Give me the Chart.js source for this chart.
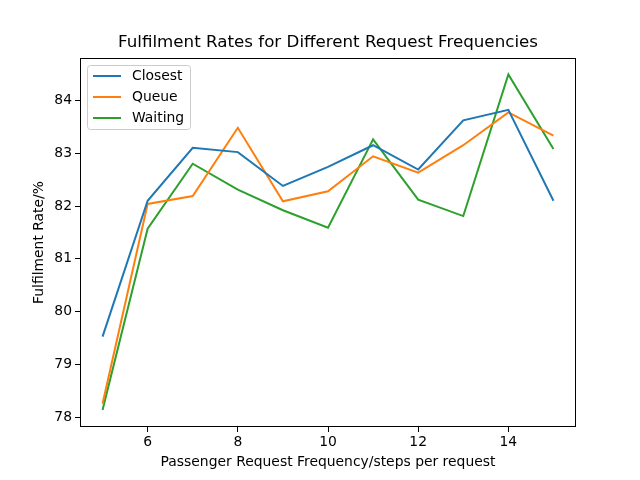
<!DOCTYPE html>
<html>
<head>
<meta charset="utf-8">
<script src="https://cdn.jsdelivr.net/npm/chart.js@4/dist/chart.umd.min.js"></script>
<style>
  html, body { margin: 0; padding: 0; background: #fff; }
  #wrap { width: 640px; height: 480px; }
</style>
</head>
<body>
<div id="wrap"><canvas id="line-chart" width="640" height="480"></canvas></div>
<script>
// data
const frequencies = [5, 6, 7, 8, 9, 10, 11, 12, 13, 14, 15];
const closest = [79.53, 82.10, 83.10, 83.02, 82.38, 82.74, 83.15, 82.69, 83.62, 83.82, 82.10];
const queue = [78.26, 82.04, 82.19, 83.48, 82.09, 82.28, 82.94, 82.63, 83.15, 83.77, 83.33];
const waiting = [78.14, 81.57, 82.80, 82.31, 81.92, 81.59, 83.26, 82.12, 81.81, 84.49, 83.08];
const xTicks = [6, 8, 10, 12, 14];
const yTicks = [78, 79, 80, 81, 82, 83, 84];

const titleText = "Fulfilment Rates for Different Request Frequencies";
const xTitle = "Passenger Request Frequency/steps per request";
const yTitle = "Fulfilment Rate/%";

const FONT = "'DejaVu Sans', sans-serif";

function toPoints(values) {
  return values.map((v, i) => ({ x: frequencies[i], y: v }));
}

// frame, titles and a matplotlib-like legend box
const framePlugin = {
  id: "frame",
  afterDraw(chart) {
    const { ctx, chartArea: a } = chart;
    const cx = (a.left + a.right) / 2;
    const cy = (a.top + a.bottom) / 2;
    ctx.save();
    ctx.strokeStyle = "#000";
    ctx.lineWidth = 1;
    ctx.strokeRect(a.left + 0.5, a.top + 0.5, a.right - a.left - 1, a.bottom - a.top - 1);

    ctx.fillStyle = "#000";
    ctx.textAlign = "center";
    ctx.textBaseline = "middle";
    ctx.font = "16.7px " + FONT;
    ctx.fillText(titleText, cx, a.top - 15);
    ctx.font = "13.9px " + FONT;
    ctx.fillText(xTitle, cx, a.bottom + 35);
    ctx.save();
    ctx.translate(a.left - 41, cy);
    ctx.rotate(-Math.PI / 2);
    ctx.fillText(yTitle, 0, 0);
    ctx.restore();

    // legend
    const bx = a.left + 7, by = a.top + 7, bw = 103, bh = 64;
    ctx.fillStyle = "rgba(255,255,255,0.8)";
    ctx.strokeStyle = "#cccccc";
    ctx.lineWidth = 1;
    ctx.beginPath();
    ctx.roundRect(bx + 0.5, by + 0.5, bw, bh, 3);
    ctx.fill();
    ctx.stroke();
    ctx.font = "13.9px " + FONT;
    ctx.textAlign = "left";
    chart.data.datasets.forEach((ds, i) => {
      const ly = by + 11 + i * 21;
      ctx.strokeStyle = ds.borderColor;
      ctx.lineWidth = 2;
      ctx.beginPath();
      ctx.moveTo(bx + 6, ly);
      ctx.lineTo(bx + 34, ly);
      ctx.stroke();
      ctx.fillStyle = "#000";
      ctx.fillText(ds.label, bx + 45, ly);
    });
    ctx.restore();
  },
};

new Chart(document.getElementById("line-chart"), {
  type: "line",
  data: {
    datasets: [
      { label: "Closest", data: toPoints(closest), borderColor: "#1f77b4" },
      { label: "Queue", data: toPoints(queue), borderColor: "#ff7f0e" },
      { label: "Waiting", data: toPoints(waiting), borderColor: "#2ca02c" },
    ],
  },
  options: {
    responsive: false,
    devicePixelRatio: 1,
    animation: false,
    layout: { padding: { left: 0, right: 64, top: 58, bottom: 0 } },
    elements: {
      line: { borderWidth: 2, tension: 0, fill: false },
      point: { radius: 0 },
    },
    plugins: {
      legend: { display: false },
      tooltip: { enabled: false },
      title: { display: false },
    },
    scales: {
      x: {
        type: "linear",
        min: 4.5,
        max: 15.5,
        afterBuildTicks: (s) => { s.ticks = xTicks.map((v) => ({ value: v })); },
        afterFit: (s) => { s.height = 53; },
        grid: { drawOnChartArea: false, color: "#000", tickLength: 5, tickWidth: 1 },
        border: { display: false },
        ticks: { color: "#000", font: { family: FONT, size: 13.9 }, padding: 2, maxRotation: 0 },
      },
      y: {
        min: 77.82,
        max: 84.8,
        afterBuildTicks: (s) => { s.ticks = yTicks.map((v) => ({ value: v })); },
        afterFit: (s) => { s.width = 80; },
        grid: { drawOnChartArea: false, color: "#000", tickLength: 5, tickWidth: 1 },
        border: { display: false },
        ticks: { color: "#000", font: { family: FONT, size: 13.9 }, padding: 3 },
      },
    },
  },
  plugins: [framePlugin],
});
</script>
</body>
</html>
